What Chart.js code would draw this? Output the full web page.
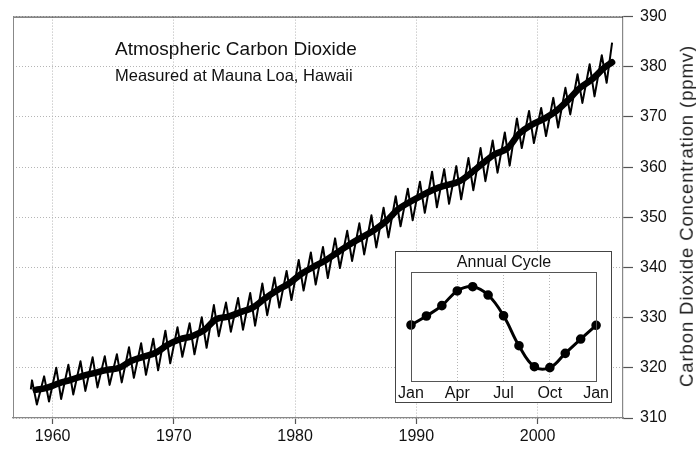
<!DOCTYPE html>
<html>
<head>
<meta charset="utf-8">
<script src="https://cdn.jsdelivr.net/npm/chart.js@4"></script>
<style>
  body { margin: 0; background: #fff; }
  #wrap { position: relative; width: 696px; height: 450px; }
  #main { position: absolute; left: 0; top: 0; }
  .texte { position: absolute; font-family: "Liberation Sans", Arial, sans-serif; color: #111; white-space: nowrap; line-height: 1; }
  #titre { left: 115px; top: 39px; font-size: 19px; }
  #sous-titre { left: 115px; top: 67px; font-size: 16.5px; }
  #axe-y { left: 687px; top: 216px; font-size: 18.5px; letter-spacing: 0.9px; color: #222; transform: translate(-50%, -50%) rotate(-90deg); }
  #encart { position: absolute; left: 395px; top: 251px; width: 217px; height: 152px; }
</style>
</head>
<body>
<div id="wrap">
  <canvas id="main" width="696" height="450"></canvas>
  <div class="texte" id="titre">Atmospheric Carbon Dioxide</div>
  <div class="texte" id="sous-titre">Measured at Mauna Loa, Hawaii</div>
  <div class="texte" id="axe-y">Carbon Dioxide Concentration (ppmv)</div>
  <div id="encart"><canvas id="cycle" width="217" height="152"></canvas></div>
</div>
<script>
// Mesures mensuelles : maximum de mai et minimum d'automne pour chaque année
const seasonYears = [1958, 1959, 1960, 1961, 1962, 1963, 1964, 1965, 1966, 1967,
  1968, 1969, 1970, 1971, 1972, 1973, 1974, 1975, 1976, 1977,
  1978, 1979, 1980, 1981, 1982, 1983, 1984, 1985, 1986, 1987,
  1988, 1989, 1990, 1991, 1992, 1993, 1994, 1995, 1996, 1997,
  1998, 1999, 2000, 2001, 2002, 2003, 2004, 2005];
const mayPeaks = [317.5, 318.3, 320.0, 320.6, 321.3, 322.1, 322.3, 322.7, 324.1, 324.9,
  325.8, 327.4, 328.1, 328.9, 330.1, 332.5, 333.0, 333.9, 334.9, 336.8,
  338.0, 339.3, 341.5, 343.0, 344.1, 345.8, 347.3, 348.8, 350.4, 351.9,
  354.2, 355.7, 357.1, 359.1, 359.6, 360.2, 361.8, 363.8, 365.3, 366.9,
  369.7, 371.2, 371.8, 373.8, 375.8, 378.5, 380.5, 382.3];
const autumnLows = [312.7, 313.3, 313.8, 314.7, 315.4, 316.1, 316.6, 317.1, 318.0, 318.6,
  319.5, 320.9, 322.2, 322.7, 324.0, 326.3, 327.2, 327.6, 328.4, 330.5,
  332.0, 333.5, 335.4, 336.6, 337.9, 339.9, 341.3, 342.6, 344.0, 346.0,
  348.2, 349.4, 350.9, 352.0, 352.7, 353.6, 355.4, 357.2, 358.9, 360.3,
  363.8, 364.8, 366.2, 367.9, 370.5, 372.8, 374.1, 376.8];
const firstMonth = [1958.2, 315.7];
const lastMonth = [2006.15, 384.8];

// Moyenne glissante sur douze mois
const trendTimes = [1958.6, 1959.5, 1960.5, 1961.5, 1962.5, 1963.5, 1964.5, 1965.5, 1966.5, 1967.5,
  1968.5, 1969.5, 1970.5, 1971.5, 1972.5, 1973.5, 1974.5, 1975.5, 1976.5, 1977.5,
  1978.5, 1979.5, 1980.5, 1981.5, 1982.5, 1983.5, 1984.5, 1985.5, 1986.5, 1987.5,
  1988.5, 1989.5, 1990.5, 1991.5, 1992.5, 1993.5, 1994.5, 1995.5, 1996.5, 1997.5,
  1998.5, 1999.5, 2000.5, 2001.5, 2002.5, 2003.5, 2004.5, 2005.5, 2006.15];
const trendValues = [315.6, 316.0, 316.9, 317.6, 318.4, 319.0, 319.6, 320.0, 321.4, 322.2,
  323.0, 324.6, 325.7, 326.3, 327.5, 329.7, 330.2, 331.1, 332.0, 333.8,
  335.4, 336.8, 338.7, 340.1, 341.4, 343.0, 344.6, 346.0, 347.4, 349.2,
  351.6, 353.1, 354.4, 355.6, 356.4, 357.1, 358.8, 360.8, 362.6, 363.7,
  366.7, 368.4, 369.6, 371.1, 373.3, 375.8, 377.5, 379.8, 380.9];

const decadeTicks = [1960, 1970, 1980, 1990, 2000];

// Cycle annuel moyen (écart à la moyenne, ppmv)
const monthLabels = ['Jan', 'Feb', 'Mar', 'Apr', 'May', 'Jun', 'Jul', 'Aug', 'Sep', 'Oct', 'Nov', 'Dec', 'Jan'];
const cycleValues = [0.11, 0.77, 1.53, 2.61, 2.92, 2.31, 0.79, -1.41, -2.95, -3.02, -1.97, -0.92, 0.09];

const police = '"Liberation Sans", Arial, sans-serif';

const seasonalPoints = [{ x: firstMonth[0], y: firstMonth[1] }];
seasonYears.forEach((an, i) => {
    seasonalPoints.push({ x: an + 0.3, y: mayPeaks[i] });
    seasonalPoints.push({ x: an + 0.7, y: autumnLows[i] });
});
seasonalPoints.push({ x: lastMonth[0], y: lastMonth[1] });

const trendPoints = trendTimes.map((t, i) => ({ x: t, y: trendValues[i] }));

// Cadre haut et gauche de la zone de tracé
const cadre = {
    id: 'cadre',
    afterDraw(chart) {
        const { ctx, chartArea: a } = chart;
        ctx.save();
        ctx.lineWidth = 1;
        ctx.strokeStyle = '#333';
        ctx.beginPath();
        ctx.moveTo(a.left, a.top + 0.5);
        ctx.lineTo(a.right, a.top + 0.5);
        ctx.stroke();
        ctx.strokeStyle = '#888';
        ctx.beginPath();
        ctx.moveTo(a.left + 0.5, a.top);
        ctx.lineTo(a.left + 0.5, a.bottom);
        ctx.stroke();
        ctx.restore();
    }
};

new Chart(document.getElementById('main'), {
    type: 'line',
    data: {
        datasets: [
            { data: seasonalPoints, borderColor: '#000', borderWidth: 2, pointRadius: 0, tension: 0, borderJoinStyle: 'round' },
            { data: trendPoints, borderColor: '#000', borderWidth: 6.5, pointRadius: 0, tension: 0.4, borderCapStyle: 'round', borderJoinStyle: 'round' }
        ]
    },
    options: {
        responsive: false,
        animation: false,
        layout: { padding: { left: 13, top: 12, right: 0, bottom: 0 } },
        plugins: { legend: { display: false }, tooltip: { enabled: false } },
        scales: {
            x: {
                type: 'linear',
                min: 1956.73,
                max: 2007.05,
                afterBuildTicks: s => { s.ticks = decadeTicks.map(v => ({ value: v })); },
                afterFit: s => { s.height = 32; },
                grid: { color: '#b5b5b5', tickLength: 6, tickColor: '#555', tickWidth: 1.2 },
                border: { dash: [1, 2], color: '#888', width: 1.2 },
                ticks: { color: '#111', font: { family: police, size: 16 }, padding: 3, maxRotation: 0, callback: v => String(v) }
            },
            y: {
                position: 'right',
                min: 310,
                max: 390,
                afterFit: s => { s.width = 73; },
                grid: { color: '#b5b5b5', tickLength: 10, tickColor: '#555', tickWidth: 1.2 },
                border: { dash: [1, 2], color: '#888', width: 1.2 },
                ticks: { stepSize: 10, color: '#111', font: { family: police, size: 16 }, padding: 7 }
            }
        }
    },
    plugins: [cadre]
});

// Encart : fond blanc, cadre extérieur et cadre du tracé
const cadreEncart = {
    id: 'cadreEncart',
    beforeDraw(chart) {
        const { ctx, width, height } = chart;
        ctx.save();
        ctx.fillStyle = '#fff';
        ctx.fillRect(0, 0, width, height);
        ctx.restore();
    },
    afterDraw(chart) {
        const { ctx, width, height, chartArea: a } = chart;
        ctx.save();
        ctx.lineWidth = 1;
        ctx.strokeStyle = '#444';
        ctx.strokeRect(0.5, 0.5, width - 1, height - 1);
        ctx.strokeStyle = '#555';
        ctx.strokeRect(Math.round(a.left) + 0.5, Math.round(a.top) + 0.5, Math.round(a.right - a.left), Math.round(a.bottom - a.top));
        ctx.restore();
    }
};

new Chart(document.getElementById('cycle'), {
    type: 'line',
    data: {
        labels: monthLabels,
        datasets: [{
            data: cycleValues,
            borderColor: '#000',
            borderWidth: 3,
            tension: 0.4,
            pointRadius: 3.3,
            pointBackgroundColor: '#000',
            pointBorderColor: '#000'
        }]
    },
    options: {
        responsive: false,
        animation: false,
        layout: { padding: { left: 16, right: 15, top: 0, bottom: 0 } },
        plugins: {
            legend: { display: false },
            tooltip: { enabled: false },
            title: {
                display: true,
                text: 'Annual Cycle',
                color: '#111',
                font: { family: police, size: 16, weight: 'normal', lineHeight: 1 },
                padding: { top: 4, bottom: 1 }
            }
        },
        scales: {
            x: {
                afterFit: s => { s.height = 22; },
                grid: {
                    drawTicks: false,
                    color: c => (c.index % 3 === 0 && c.index !== 0 && c.index !== 12) ? '#b5b5b5' : 'rgba(0,0,0,0)'
                },
                border: { display: false, dash: [1, 2] },
                ticks: {
                    autoSkip: false,
                    maxRotation: 0,
                    padding: 3,
                    color: '#111',
                    font: { family: police, size: 16 },
                    callback: (v, i) => (i % 3 === 0 ? monthLabels[i] : '')
                }
            },
            y: { display: false, min: -4, max: 4 }
        }
    },
    plugins: [cadreEncart]
});
</script>
</body>
</html>
